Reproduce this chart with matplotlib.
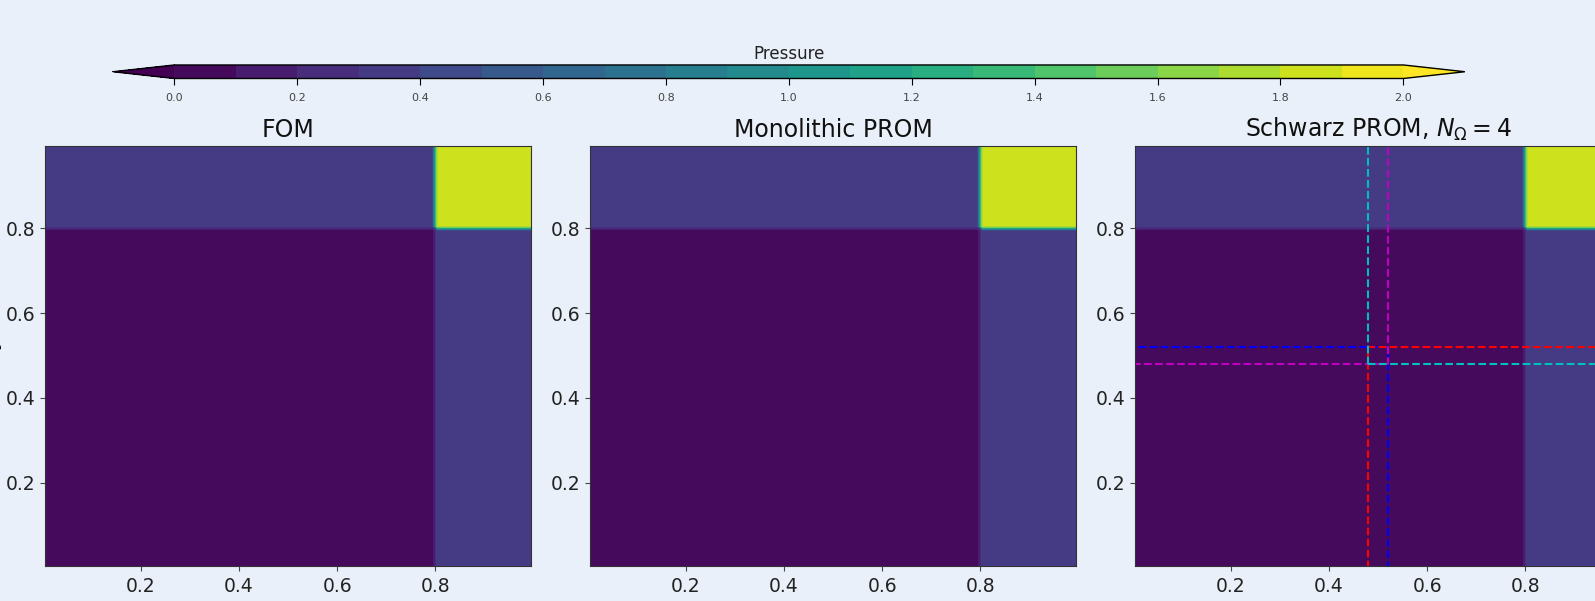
import numpy as np
import matplotlib.pyplot as plt

# --- DATOS ---
# presion constante por zonas (cortes en x = 0.8 e y = 0.8)
corte_x = 0.8
corte_y = 0.8
p_abajo_izq = 0.05
p_abajo_der = 0.35
p_arriba_izq = 0.35
p_arriba_der = 1.85

titulos = ['FOM', 'Monolithic PROM', r'Schwarz PROM, $N_{\Omega} = 4$']

# subdominios de Schwarz (x0, x1, y0, y1) y sus colores
sub_x0 = [0.0, 0.48, 0.0, 0.48]
sub_x1 = [0.52, 1.0, 0.52, 1.0]
sub_y0 = [0.0, 0.0, 0.48, 0.48]
sub_y1 = [0.52, 0.52, 1.0, 1.0]
sub_colores = ['b', 'r', 'm', 'c']

niveles = [0.0, 0.1, 0.2, 0.3, 0.4, 0.5, 0.6, 0.7, 0.8, 0.9, 1.0,
           1.1, 1.2, 1.3, 1.4, 1.5, 1.6, 1.7, 1.8, 1.9, 2.0]
ticks_cb = [0.0, 0.2, 0.4, 0.6, 0.8, 1.0, 1.2, 1.4, 1.6, 1.8, 2.0]
ticks_ejes = [0.2, 0.4, 0.6, 0.8]

# malla de centros de celda
x_c = np.linspace(0.005, 0.995, 100)
X, Y = np.meshgrid(x_c, x_c)
P = np.where(Y < corte_y,
             np.where(X < corte_x, p_abajo_izq, p_abajo_der),
             np.where(X < corte_x, p_arriba_izq, p_arriba_der))

fondo = '#E9F0F9'
fig = plt.figure(figsize=(15.95, 6.01), dpi=100, facecolor=fondo)

izq = [0.0282, 0.3699, 0.7116]
ancho = 0.3047

for i in range(3):
    ax = fig.add_axes([izq[i], 0.0589, ancho, 0.699])
    cs = ax.contourf(X, Y, P, levels=niveles, cmap='viridis', extend='both')
    if i == 2:
        for x0, x1, y0, y1, c in zip(sub_x0, sub_x1, sub_y0, sub_y1, sub_colores):
            ax.plot([x0, x1, x1, x0, x0], [y0, y0, y1, y1, y0], '--', color=c, lw=1.5)
    ax.set_xlim(0.005, 0.995)
    ax.set_ylim(0.005, 0.995)
    ax.set_xticks(ticks_ejes)
    ax.set_yticks(ticks_ejes)
    ax.tick_params(labelsize=13.5, labelcolor='#222222', color='#444444')
    ax.tick_params(axis='x', pad=4.5)
    ax.set_title(titulos[i], fontsize=17, color='#111111', pad=6)
    for s in ax.spines.values():
        s.set_color('#333333')
    if i == 0:
        ax.set_ylabel('y', fontsize=16)
        ax.yaxis.set_label_coords(-0.09, 0.53)

cax = fig.add_axes([0.0708, 0.8694, 0.8476, 0.0225])
cb = fig.colorbar(cs, cax=cax, orientation='horizontal', extendfrac=0.05, ticks=ticks_cb)
cb.ax.tick_params(labelsize=8, labelcolor='#444444', length=5, width=0.8, pad=5.5)
cb.ax.xaxis.set_major_formatter(plt.FormatStrFormatter('%.1f'))
cb.set_label('Pressure', fontsize=12, labelpad=4, color='#222222')
cb.ax.xaxis.set_label_position('top')
cb.outline.set_linewidth(1.0)

fig.savefig('out.png', dpi=100, facecolor=fondo)
